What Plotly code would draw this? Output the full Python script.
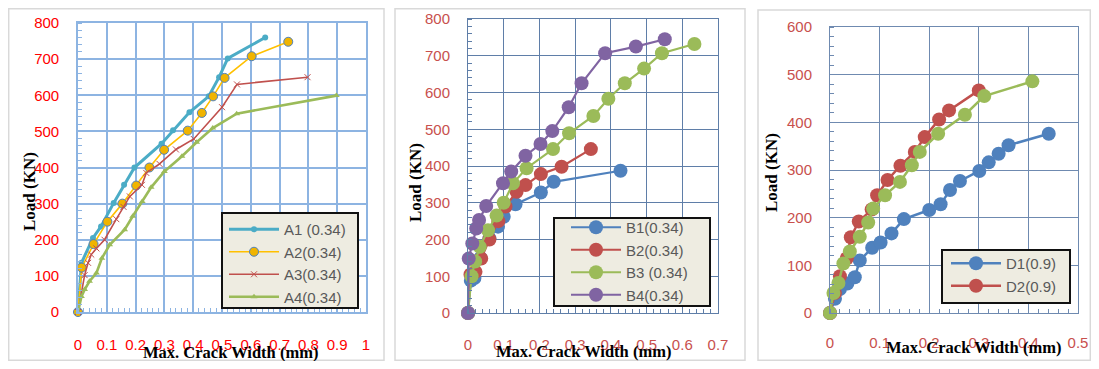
import plotly.graph_objects as go

# page body has an 8px margin, so the figure is drawn 8px in from the top-left corner
OFF = 8
W, H = 1099 - 2 * OFF, 369 - 2 * OFF

# ---------------- data ----------------
A1_x = [0, 0.012, 0.052, 0.08, 0.124, 0.16, 0.196, 0.29, 0.33, 0.387, 0.454, 0.49, 0.52, 0.65]
A1_y = [0, 136, 205, 237, 302, 352, 400, 466, 503, 553, 597, 650, 702, 760]
A2_x = [0, 0.013, 0.054, 0.102, 0.154, 0.202, 0.248, 0.299, 0.381, 0.43, 0.469, 0.509, 0.603, 0.73]
A2_y = [0, 123, 188, 250, 300, 350, 400, 449, 502, 551, 597, 648, 708, 748]
A3_x = [0, 0.023, 0.035, 0.046, 0.064, 0.092, 0.133, 0.158, 0.18, 0.222, 0.237, 0.283, 0.34, 0.402, 0.5, 0.552, 0.797]
A3_y = [0, 102, 136, 159, 176, 200, 257, 291, 320, 352, 385, 410, 450, 479, 567, 630, 650]
A4_x = [0, 0.012, 0.023, 0.04, 0.064, 0.083, 0.11, 0.162, 0.19, 0.223, 0.254, 0.3, 0.361, 0.412, 0.468, 0.551, 0.897]
A4_y = [0, 43, 62, 85, 108, 149, 186, 228, 265, 306, 345, 389, 431, 470, 509, 549, 599]

B1_x = [0, 0.008, 0.018, 0.035, 0.06, 0.084, 0.1, 0.133, 0.204, 0.24, 0.427]
B1_y = [0, 88, 95, 150, 203, 235, 262, 296, 328, 357, 387]
B2_x = [0, 0.007, 0.021, 0.037, 0.06, 0.085, 0.105, 0.136, 0.161, 0.204, 0.262, 0.344]
B2_y = [0, 105, 112, 148, 200, 250, 290, 330, 348, 378, 398, 446]
B3_x = [0, 0.01, 0.02, 0.033, 0.056, 0.08, 0.1, 0.126, 0.164, 0.238, 0.283, 0.351, 0.393, 0.439, 0.493, 0.543, 0.634]
B3_y = [0, 100, 140, 180, 225, 265, 300, 353, 394, 446, 489, 536, 583, 625, 665, 707, 732]
B4_x = [0, 0.002, 0.012, 0.023, 0.031, 0.051, 0.098, 0.121, 0.161, 0.203, 0.236, 0.282, 0.318, 0.384, 0.47, 0.551]
B4_y = [0, 148, 189, 230, 253, 291, 353, 385, 428, 460, 495, 560, 625, 707, 725, 745]

D1_x = [0, 0.01, 0.02, 0.035, 0.05, 0.06, 0.085, 0.102, 0.124, 0.149, 0.2, 0.223, 0.242, 0.262, 0.301, 0.32, 0.34, 0.36, 0.441]
D1_y = [0, 30, 50, 62, 75, 110, 137, 148, 167, 197, 216, 228, 258, 277, 298, 316, 334, 352, 376]
D2_x = [0, 0.01, 0.02, 0.034, 0.042, 0.058, 0.084, 0.095, 0.116, 0.142, 0.171, 0.191, 0.22, 0.24, 0.3]
D2_y = [0, 42, 77, 115, 159, 192, 217, 247, 279, 309, 338, 369, 406, 425, 467]
D3_x = [0, 0.007, 0.017, 0.027, 0.04, 0.06, 0.077, 0.087, 0.111, 0.141, 0.165, 0.181, 0.218, 0.272, 0.311, 0.408]
D3_y = [0, 42, 63, 104, 129, 160, 190, 219, 247, 275, 310, 338, 376, 416, 455, 486]

x1_ticks = [0, 0.1, 0.2, 0.3, 0.4, 0.5, 0.6, 0.7, 0.8, 0.9, 1]
x1_text = ["0", "0.1", "0.2", "0.3", "0.4", "0.5", "0.6", "0.7", "0.8", "0.9", "1"]
x2_ticks = [0, 0.1, 0.2, 0.3, 0.4, 0.5, 0.6, 0.7]
x2_text = ["0", "0.1", "0.2", "0.3", "0.4", "0.5", "0.6", "0.7"]
x3_ticks = [0, 0.1, 0.2, 0.3, 0.4, 0.5]
x3_text = ["0", "0.1", "0.2", "0.3", "0.4", "0.5"]
y12_ticks = [0, 100, 200, 300, 400, 500, 600, 700, 800]
y3_ticks = [0, 100, 200, 300, 400, 500, 600]

x_title = "Max. Crack Width (mm)"
y_title = "Load (KN)"

# ---------------- helpers (window pixels -> paper) ----------------
def fx(p):
    return (p - OFF) / W

def fy(p):
    return 1 - (p - OFF) / H

BLUE, RED, GREEN, PURPLE = "#4F81BD", "#C0504D", "#9BBB59", "#8064A2"
TEAL, GOLD = "#4BACC6", "#FFC000"

fig = go.Figure()

def add(x, y, name, color, lw, msym, msize, xa, ya, leg, mcolor=None, mline=None, show=True):
    fig.add_trace(go.Scatter(
        x=x, y=y, name=name, mode="lines+markers",
        line=dict(color=color, width=lw),
        marker=dict(symbol=msym, size=msize, color=mcolor or color,
                    line=dict(color=mline or (mcolor or color), width=1 if mline else 0)),
        xaxis=xa, yaxis=ya, legend=leg, showlegend=show, cliponaxis=False))

# panel 1
add(A1_x, A1_y, "A1 (0.34)", TEAL, 3, "circle", 6, "x", "y", "legend")
add(A2_x, A2_y, "A2(0.34)", GOLD, 1.6, "circle", 9, "x", "y", "legend", mcolor="#F0B400", mline="#4F81BD")
add(A3_x, A3_y, "A3(0.34)", RED, 1.6, "x-thin-open", 6, "x", "y", "legend")
add(A4_x, A4_y, "A4(0.34)", GREEN, 2.6, "triangle-up", 6, "x", "y", "legend")
# panel 2
add(B1_x, B1_y, "B1(0.34)", BLUE, 2.2, "circle", 14, "x2", "y2", "legend2")
add(B2_x, B2_y, "B2(0.34)", RED, 2.2, "circle", 14, "x2", "y2", "legend2")
add(B3_x, B3_y, "B3 (0.34)", GREEN, 2.2, "circle", 14, "x2", "y2", "legend2")
add(B4_x, B4_y, "B4(0.34)", PURPLE, 2.2, "circle", 14, "x2", "y2", "legend2")
# panel 3
add(D1_x, D1_y, "D1(0.9)", BLUE, 2.5, "circle", 14, "x3", "y3", "legend3")
add(D2_x, D2_y, "D2(0.9)", RED, 2.5, "circle", 14, "x3", "y3", "legend3")
add(D3_x, D3_y, "D3(0.9)", GREEN, 2.5, "circle", 14, "x3", "y3", "legend3", show=False)

tick_font1 = dict(family="Liberation Sans", size=15, color="#FF0000")
tick_font2 = dict(family="Liberation Sans", size=15, color="#C8504D")

def xax(dom, rng, tv, tt, grid, gw, tf, minor_dt, anchor, standoff=18):
    return dict(domain=[fx(dom[0]), fx(dom[1])], range=rng, tickvals=tv, ticktext=tt,
                showgrid=True, gridcolor=grid, gridwidth=gw, zeroline=False,
                showline=True, linecolor=grid, linewidth=gw, mirror=True, anchor=anchor,
                ticks="", tickfont=tf, ticklabelstandoff=standoff, fixedrange=True,
                minor=dict(ticks="inside", ticklen=4, tickcolor=grid, dtick=minor_dt, showgrid=False))

def yax(dom, rng, tv, grid, gw, tf, anchor, minor_dt):
    return dict(domain=[fy(dom[1]), fy(dom[0])], range=rng, tickvals=tv,
                showgrid=True, gridcolor=grid, gridwidth=gw, zeroline=False,
                showline=True, linecolor=grid, linewidth=gw, mirror=True,
                ticks="", tickfont=tf, ticklabelstandoff=14, anchor=anchor, fixedrange=True,
                minor=dict(ticks="inside", ticklen=4, tickcolor=grid, dtick=minor_dt, showgrid=False))

G1 = "#8DB4E2"
G2 = "#5F7EA8"
G3 = "#6F8AB0"

fig.update_layout(
    width=W, height=H, autosize=False,
    margin=dict(l=0, r=0, t=0, b=0, autoexpand=False),
    paper_bgcolor="white", plot_bgcolor="white",
    xaxis=xax((78, 366), [0, 1], x1_ticks, x1_text, G1, 1.6, tick_font1, 0.02, "y"),
    yaxis=yax((23, 312), [0, 800], y12_ticks, G1, 1.6, tick_font1, "x", 20),
    xaxis2=xax((468, 718), [0, 0.7], x2_ticks, x2_text, G2, 1, tick_font2, 0.02, "y2"),
    yaxis2=yax((19, 313), [0, 800], y12_ticks, G2, 1, tick_font2, "x2", 20),
    xaxis3=xax((830, 1078), [0, 0.5], x3_ticks, x3_text, G3, 1, tick_font2, 0.02, "y3", 16),
    yaxis3=yax((27, 313), [0, 600], y3_ticks, G3, 1, tick_font2, "x3", 20),
)

leg_font = dict(family="Liberation Sans", size=15, color="#595959")
def legend(x, y):
    return dict(x=fx(x), y=fy(y), xanchor="left", yanchor="top", bgcolor="rgba(0,0,0,0)",
                borderwidth=0, font=leg_font, itemwidth=50, tracegroupgap=0,
                itemclick=False, itemdoubleclick=False)

fig.update_layout(legend=legend(224, 213), legend2=legend(566, 211), legend3=legend(946, 247))

shapes = []
# panel frames
for (x0, y0, x1, y1) in [(8.7, 8.7, 384, 360.3), (395, 8.7, 745, 360.3), (758, 10, 1090.3, 360.3)]:
    shapes.append(dict(type="rect", xref="paper", yref="paper", x0=fx(x0), x1=fx(x1), y0=fy(y1), y1=fy(y0),
                       line=dict(color="#D9D9D9", width=1.5), fillcolor="rgba(0,0,0,0)", layer="below"))
# legend boxes
for (x0, y0, x1, y1) in [(222, 213, 358, 308), (554, 218, 710, 306), (942, 250, 1070, 303)]:
    shapes.append(dict(type="rect", xref="paper", yref="paper", x0=fx(x0), x1=fx(x1), y0=fy(y1), y1=fy(y0),
                       line=dict(color="#111111", width=2), fillcolor="#EEECE1", layer="above"))
fig.update_layout(shapes=shapes)

title_font = dict(family="Liberation Serif", size=16.5, color="black")
ann = []
for (cx, cy) in [(230, 352), (583, 351), (973, 347)]:
    ann.append(dict(text="<b>" + x_title + "</b>", xref="paper", yref="paper", x=fx(cx), y=fy(cy),
                    xanchor="center", yanchor="middle", showarrow=False, font=title_font))
for (cx, cy) in [(29, 192), (415, 183), (772, 173)]:
    ann.append(dict(text="<b>" + y_title + "</b>", xref="paper", yref="paper", x=fx(cx), y=fy(cy),
                    xanchor="center", yanchor="middle", showarrow=False,
                    font=dict(family="Liberation Serif", size=17, color="black"), textangle=-90))
fig.update_layout(annotations=ann)

fig.write_html("out.html")
